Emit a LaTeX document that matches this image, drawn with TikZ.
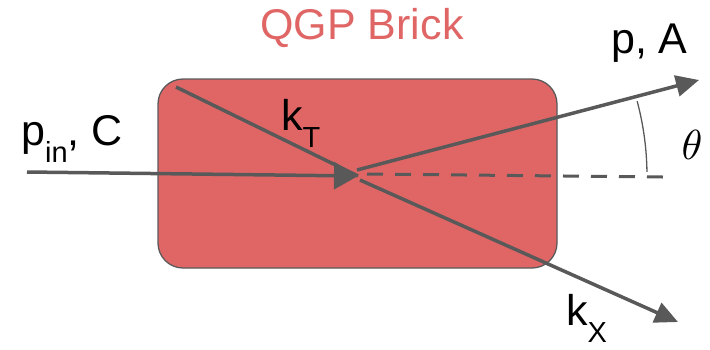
\documentclass[tikz,border=0pt]{standalone}
\usepackage{graphicx}
\usepackage{fontspec}
\setmainfont{Liberation Sans}
\usetikzlibrary{arrows.meta}
\definecolor{brick}{HTML}{E06666}
\definecolor{ln}{HTML}{595959}
\newcommand{\bigtxt}{\fontsize{43}{50}\selectfont}
\newcommand{\subtxt}[1]{\raisebox{-17pt}{\fontsize{29}{32}\selectfont #1}}
\begin{document}
\begin{tikzpicture}[x=1pt,y=-1pt,
  ray/.style={draw=ln,line width=3.5pt},
  tipA/.style={-{Triangle[length=23pt,width=21pt]}},
  tipB/.style={-{Triangle[length=24pt,width=27pt]}},
  lbl/.style={anchor=base west,inner sep=0pt,font=\bigtxt}]
\useasboundingbox (0,0) rectangle (710,349);
\node[draw=ln,line width=1.3pt,fill=brick,rounded corners=25pt,minimum width=399pt,minimum height=189pt,inner sep=0pt] (brick) at (357.5,173.5) {};
\node[anchor=base,inner sep=0pt,text=brick,font=\bigtxt] (title) at (362,39) {QGP Brick};
\coordinate (in) at (27,172);
\coordinate (v) at (358,176);
\coordinate (kts) at (176,87);
\coordinate (kxs) at (360,180);
\coordinate (kxe) at (678,322);
\coordinate (pas) at (357,170);
\coordinate (pae) at (699,80);
\coordinate (ds) at (367,174);
\coordinate (de) at (663,177);
\draw[ray] (kts) -- (v);
\draw[ray,tipA] (kxs) -- (kxe);
\draw[ray,tipA] (pas) -- (pae);
\draw[ray,line width=3pt,dash pattern=on 16pt off 12pt] (ds) -- (de);
\draw[ray,tipB] (in) -- (v);
\draw[draw=ln,line width=1.3pt] (v) ++(-0.8:289) arc[start angle=-0.8,end angle=-15,radius=289];
\node[lbl] (pin) at (21,145) {p\subtxt{in}, C};
\node[lbl] (pa) at (611,53) {p, A};
\node[lbl] (kt) at (281,130) {k\subtxt{T}};
\node[lbl] (kx) at (566,325) {k\subtxt{X}};
\node[inner sep=0pt] (th) at (692,145) {\scalebox{4.2}{$\theta$}};
\end{tikzpicture}
\end{document}
